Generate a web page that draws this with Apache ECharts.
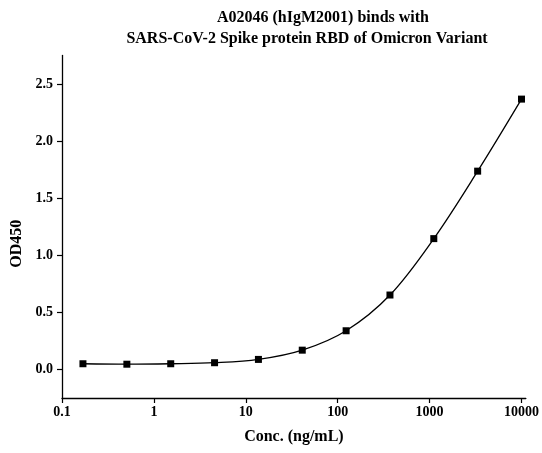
<!DOCTYPE html>
<html>
<head>
<meta charset="utf-8">
<script src="https://cdn.jsdelivr.net/npm/echarts@6/dist/echarts.min.js"></script>
<style>
html,body{margin:0;padding:0;background:#fff;}
#chart{width:542px;height:453px;}
</style>
</head>
<body>
<div id="chart"></div>
<script>
// Data (3-fold serial dilution)
var concentrations = [0.169, 0.508, 1.524, 4.572, 13.72, 41.15, 123.5, 370.4, 1111, 3333, 10000];
var od450 = [0.050, 0.046, 0.050, 0.059, 0.088, 0.169, 0.339, 0.652, 1.146, 1.737, 2.368];
var xTicks = [0.1, 1, 10, 100, 1000, 10000];
var yTicks = [0, 0.5, 1.0, 1.5, 2.0, 2.5];
var titleLine1 = 'A02046 (hIgM2001) binds with';
var titleLine2 = 'SARS-CoV-2 Spike protein RBD of Omicron Variant';

var FONT = '"Liberation Serif", "Times New Roman", serif';
var points = concentrations.map(function (c, i) { return [c, od450[i]]; });

var chart = echarts.init(document.getElementById('chart'), null, {renderer: 'canvas'});
chart.setOption({
  animation: false,
  backgroundColor: '#fff',
  title: [
    {text: titleLine1, left: 323, top: 10, textAlign: 'center', padding: 0,
     textStyle: {fontFamily: FONT, fontWeight: 'bold', fontSize: 16, color: '#000'}},
    {text: titleLine2, left: 307, top: 30.5, textAlign: 'center', padding: 0,
     textStyle: {fontFamily: FONT, fontWeight: 'bold', fontSize: 16, color: '#000'}}
  ],
  grid: {left: 62, right: 14, top: 55.5, bottom: 55},
  xAxis: {
    type: 'log', logBase: 10, min: 0.1, max: 11150,
    name: 'Conc. (ng/mL)', nameLocation: 'middle', nameGap: 31,
    nameTextStyle: {fontFamily: FONT, fontWeight: 'bold', fontSize: 16, color: '#000'},
    axisLine: {show: true, onZero: false, lineStyle: {color: '#000', width: 1.3}},
    axisTick: {show: true, inside: false, length: 5, customValues: xTicks, lineStyle: {color: '#000', width: 1.2}},
    minorTick: {show: false},
    axisLabel: {customValues: xTicks, margin: 7, fontFamily: FONT, fontWeight: 'bold', fontSize: 14, color: '#000',
      formatter: function (v) { return String(v); }},
    splitLine: {show: false}
  },
  yAxis: {
    type: 'value', min: -0.25, max: 2.75,
    name: 'OD450', nameLocation: 'middle', nameGap: 34, nameRotate: 90,
    nameTextStyle: {fontFamily: FONT, fontWeight: 'bold', fontSize: 16, color: '#000', padding: [0, 34, 0, 0]},
    axisLine: {show: true, onZero: false, lineStyle: {color: '#000', width: 1.3}},
    axisTick: {show: true, inside: false, length: 5, customValues: yTicks, lineStyle: {color: '#000', width: 1.2}},
    axisLabel: {customValues: yTicks, margin: 9, fontFamily: FONT, fontWeight: 'bold', fontSize: 14, color: '#000',
      formatter: function (v) { return Number(v).toFixed(1); }},
    splitLine: {show: false}
  },
  series: [{
    type: 'line',
    data: points,
    smooth: 0.35,
    symbol: 'rect',
    symbolSize: 7,
    showSymbol: true,
    itemStyle: {color: '#000'},
    lineStyle: {color: '#000', width: 1.3}
  }]
});
</script>
</body>
</html>
